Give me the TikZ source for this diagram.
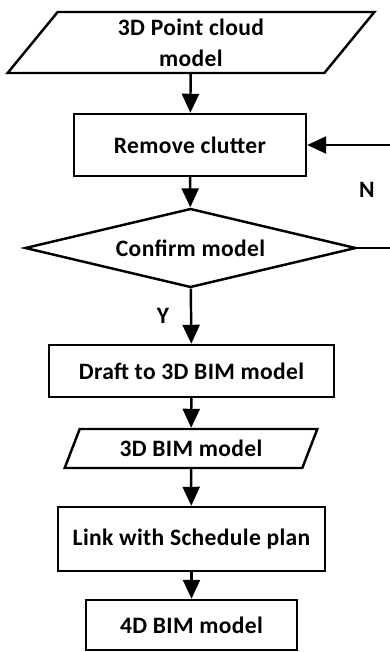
\documentclass[tikz,border=0pt]{standalone}
\usepackage{fontspec}
\setmainfont{Carlito}[LetterSpace=1.5]
\usetikzlibrary{arrows.meta}
\usetikzlibrary{shapes.geometric}
\tikzset{flow/.style = {line width = 1.4pt, -{Triangle[length=0.38cm, width=0.34cm]}}}
\tikzset{proc/.style = {draw, line width = 1.4pt, rectangle, inner sep = 0,
                        font = \fontsize{13.4}{17.5}\selectfont\bfseries, align = center}}
\tikzset{data/.style = {proc, trapezium, trapezium left angle = 60,
                        trapezium right angle = 120, trapezium stretches = true}}
\tikzset{test/.style = {proc, diamond, aspect = 4.2}}
\tikzset{tag/.style = {font = \fontsize{13.4}{17.5}\selectfont\bfseries}}

\begin{document}
\begin{tikzpicture}
      \useasboundingbox (0, 0) rectangle (7.8, -13.04);

      \node [data, minimum width = 7.34cm, minimum height = 1.22cm] (cloud) at (3.82, -0.85) {3D Point cloud\\model};
      \node [proc, minimum width = 4.64cm, minimum height = 1.24cm] (clutter) at (3.80, -2.90) {Remove clutter};
      \node [test, minimum width = 6.62cm, minimum height = 1.58cm] (confirm) at (3.81, -4.96) {Confirm model};
      \node [proc, minimum width = 5.70cm, minimum height = 1.04cm] (draft) at (3.83, -7.42) {Draft to 3D BIM model};
      \node [data, minimum width = 5.08cm, minimum height = 0.78cm] (bim3) at (3.82, -8.97) {3D BIM model};
      \node [proc, minimum width = 5.34cm, minimum height = 1.28cm] (link) at (3.83, -10.78) {Link with Schedule plan};
      \node [proc, minimum width = 4.22cm, minimum height = 1.00cm] (bim4) at (3.83, -12.50) {4D BIM model};

      \node [tag] (no) at (7.34, -3.80) {N};
      \node [tag] (yes) at (3.26, -6.32) {Y};
      \coordinate (loop) at (7.86, -2.90);

      \draw [flow] (cloud) -- (clutter);
      \draw [flow] (clutter) -- (confirm);
      \draw [flow] (confirm) -- (draft);
      \draw [flow] (draft) -- (bim3);
      \draw [flow] (bim3) -- (link);
      \draw [flow] (link) -- (bim4);
      \draw [flow] (confirm.east) -| (loop) -- (clutter.east);
    \end{tikzpicture}
\end{document}
